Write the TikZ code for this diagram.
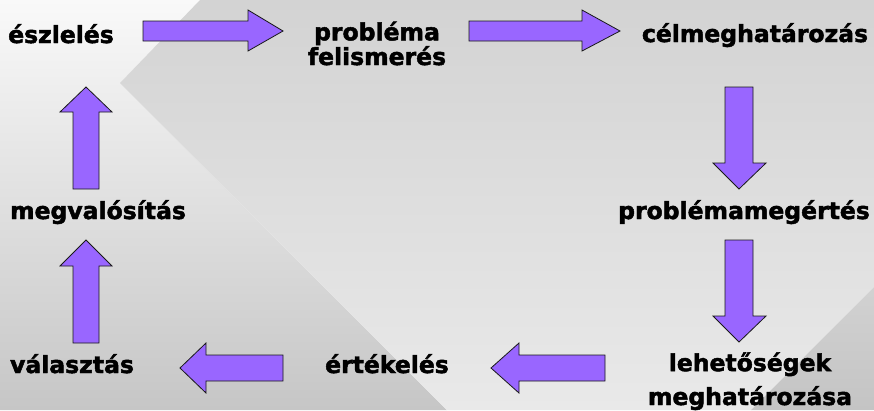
\documentclass[tikz,border=0pt]{standalone}
\usepackage{fontspec}
\setmainfont{DejaVu Sans}
\newfontfamily\lblfont{DejaVu Sans}[BoldFeatures={FakeBold=2}]
\definecolor{arrowpurple}{HTML}{9966FF}
\definecolor{bgtop}{HTML}{F9F9F9}
\definecolor{bgleftbot}{HTML}{C6C6C6}
\definecolor{bgmidtop}{HTML}{D3D3D3}
\definecolor{bgmidbot}{HTML}{E9E9E9}
\definecolor{bgcorner}{HTML}{C4C4C4}
\tikzset{
  lbl/.style={font=\lblfont\bfseries\fontsize{23.5}{23}\selectfont, anchor=base,
    inner sep=0pt, align=center},
  blockarrow/.style={fill=arrowpurple, draw=black!90, line width=0.8pt,
    line join=miter}
}
\begin{document}
\begin{tikzpicture}[x=1pt,y=-1pt]
      \useasboundingbox (0,0) rectangle (874,410);
      % background
      \shade[top color=bgtop, bottom color=bgleftbot]
        (0,0) -- (200,0) -- (120,83) -- (447,410) -- (0,410) -- cycle;
      \shade[top color=bgmidtop, bottom color=bgmidbot]
        (200,0) -- (874,0) -- (874,287) -- (751,410) -- (447,410) -- (120,83) -- cycle;
      \shade[top color=bgmidtop!90!bgcorner, bottom color=bgcorner]
        (874,287) -- (874,410) -- (751,410) -- cycle;
      % labels (multi-line ones sit on their last baseline)
      \node[lbl] (eszleles) at (61,43) {észlelés};
      \node[lbl] (problema) at (377,65) {probléma\\felismerés};
      \node[lbl] (cel) at (755,42) {célmeghatározás};
      \node[lbl] (megertes) at (744,219) {problémamegértés};
      \node[lbl] (lehetoseg) at (750,405) {lehetőségek\\[9pt]meghatározása};
      \node[lbl] (ertekeles) at (387,373) {értékelés};
      \node[lbl] (valasztas) at (72,373) {választás};
      \node[lbl] (megval) at (98,219) {megvalósítás};
      % arrows
      \draw[blockarrow] (143,21) -- (248,21) -- (248,10) -- (283,31)
        -- (248,51) -- (248,41) -- (143,41) -- cycle;
      \draw[blockarrow] (469,21) -- (582,21) -- (582,10) -- (620,31)
        -- (582,51) -- (582,41) -- (469,41) -- cycle;
      \draw[blockarrow] (725,87) -- (753,87) -- (753,163) -- (766,163)
        -- (739,189) -- (713,163) -- (725,163) -- cycle;
      \draw[blockarrow] (725,240) -- (753,240) -- (753,316) -- (766,316)
        -- (739,342) -- (713,316) -- (725,316) -- cycle;
      \draw[blockarrow] (605,355) -- (519,355) -- (519,343) -- (491,368)
        -- (519,393) -- (519,381) -- (605,381) -- cycle;
      \draw[blockarrow] (283,355) -- (206,355) -- (206,343) -- (180,368)
        -- (206,393) -- (206,381) -- (283,381) -- cycle;
      \draw[blockarrow] (73,343) -- (73,266) -- (60,266) -- (86,240)
        -- (112,266) -- (99,266) -- (99,343) -- cycle;
      \draw[blockarrow] (73,189) -- (73,112) -- (60,112) -- (86,87)
        -- (112,112) -- (99,112) -- (99,189) -- cycle;
    \end{tikzpicture}
\end{document}
